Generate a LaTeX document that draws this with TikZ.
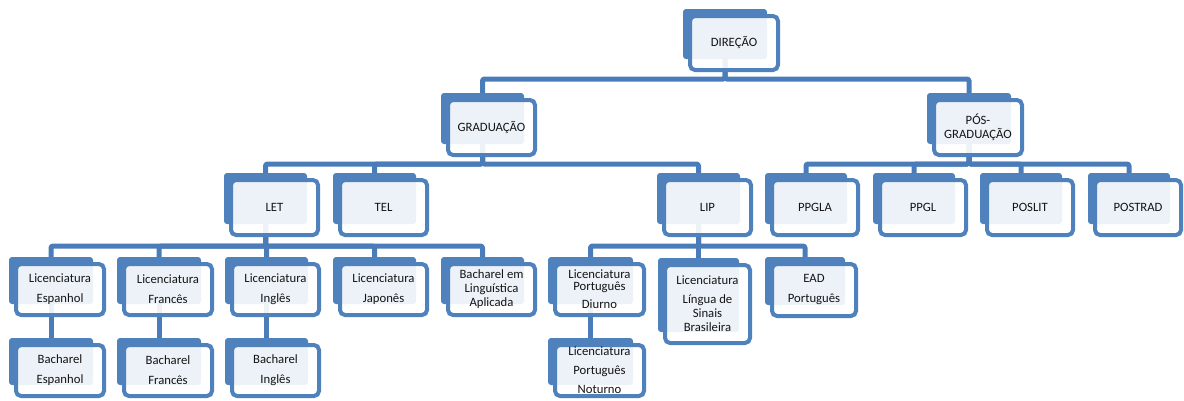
\documentclass[tikz,border=0pt]{standalone}
\usepackage{fontspec}
\setmainfont{Carlito}
\usetikzlibrary{backgrounds,calc}
\definecolor{obl}{RGB}{79,129,189}
\definecolor{cbl}{RGB}{74,124,186}
\definecolor{txt}{RGB}{20,20,20}
\tikzset{
  backbox/.style={rectangle, rounded corners=3pt, fill=obl, draw=none, inner sep=0pt, outer sep=0pt},
  frontbox/.style={rectangle, rounded corners=5pt, fill=white, fill opacity=0.9, draw=obl, draw opacity=1, line width=4pt, inner sep=0pt, outer sep=0pt},
  lbl/.style={align=center, text=txt, font=\fontsize{12.7}{14}\selectfont, inner sep=0pt},
  conn/.style={draw=cbl, line width=5pt, rounded corners=1.5pt, line join=round}
}
\newcommand\obox[6]{%
  \node[backbox, minimum width={#4-#2-8}, minimum height={#5-#3-8}] (#1) at ({(#2+#4)/2-9},{(#3+#5)/2-9}) {};
  \node[frontbox, minimum width={#4-#2-4}, minimum height={#5-#3-4}] (#1-f) at ({(#2+#4)/2},{(#3+#5)/2}) {};
  \node[lbl] (#1-t) at ({(#2+#4)/2},{(#3+#5)/2}) {#6};
}
\begin{document}
\begin{tikzpicture}[x=1pt,y=-1pt]
\useasboundingbox (0,0) rectangle (1184,400);
% level 0
\obox{dir}{688}{14}{780}{72}{DIREÇÃO}
% level 1
\obox{grad}{446}{98}{537}{157}{GRADUAÇÃO}
\obox{pos}{932}{98}{1024}{157}{PÓS-\\GRADUAÇÃO}
% level 2
\obox{let}{229}{178}{320}{237}{LET}
\obox{tel}{338}{178}{429}{237}{TEL}
\obox{lip}{662}{178}{753}{237}{LIP}
\obox{ppgla}{770}{178}{860}{237}{PPGLA}
\obox{ppgl}{878}{178}{968}{237}{PPGL}
\obox{poslit}{985}{178}{1075}{237}{POSLIT}
\obox{postrad}{1093}{178}{1183}{237}{POSTRAD}
% level 3
\obox{lesp}{14}{262}{106}{317}{Licenciatura\\[6pt]Espanhol}
\obox{lfra}{122}{262}{214}{317}{Licenciatura\\[6pt]Francês}
\obox{ling}{230}{262}{321}{317}{Licenciatura\\[6pt]Inglês}
\obox{ljap}{338}{262}{429}{317}{Licenciatura\\[6pt]Japonês}
\obox{bla}{446}{262}{537}{317}{Bacharel em\\Linguística\\Aplicada}
\obox{lpd}{553}{262}{646}{317}{Licenciatura\\[-2pt]Português\\[4pt]Diurno}
\obox{libras}{663}{263}{752}{345}{Licenciatura\\[5pt]Língua de\\Sinais\\Brasileira}
\obox{ead}{770}{262}{858}{318}{EAD\\[6pt]Português}
% level 4
\obox{besp}{14}{343}{106}{398}{Bacharel\\[6pt]Espanhol}
\obox{bfra}{122}{343}{214}{398}{Bacharel\\[6pt]Francês}
\obox{bing}{230}{343}{321}{398}{Bacharel\\[6pt]Inglês}
\obox{lpn}{553}{343}{646}{398}{Licenciatura\\[5pt]Português\\[5pt]Noturno}
% buses
\coordinate (bus0) at (0,79);
\coordinate (bus1) at (0,164);
\coordinate (bus2) at (0,246);
\begin{scope}[on background layer]
\draw[conn] (dir.south) -- (dir.south |- bus0) -| (grad.north);
\draw[conn] (dir.south) -- (dir.south |- bus0) -| (pos.north);
\foreach \c in {let,tel,lip}{\draw[conn] (grad.south) -- (grad.south |- bus1) -| (\c.north);}
\foreach \c in {ppgla,ppgl,poslit,postrad}{\draw[conn] (pos.south) -- (pos.south |- bus1) -| (\c.north);}
\foreach \c in {lesp,lfra,ling,ljap,bla}{\draw[conn] (let.south) -- (let.south |- bus2) -| (\c.north);}
\foreach \c in {lpd,libras,ead}{\draw[conn] (lip.south) -- (lip.south |- bus2) -| (\c.north);}
\draw[conn] (lesp.south) -- (besp.north);
\draw[conn] (lfra.south) -- (bfra.north);
\draw[conn] (ling.south) -- (bing.north);
\draw[conn] (lpd.south) -- (lpn.north);
\end{scope}
\end{tikzpicture}
\end{document}
